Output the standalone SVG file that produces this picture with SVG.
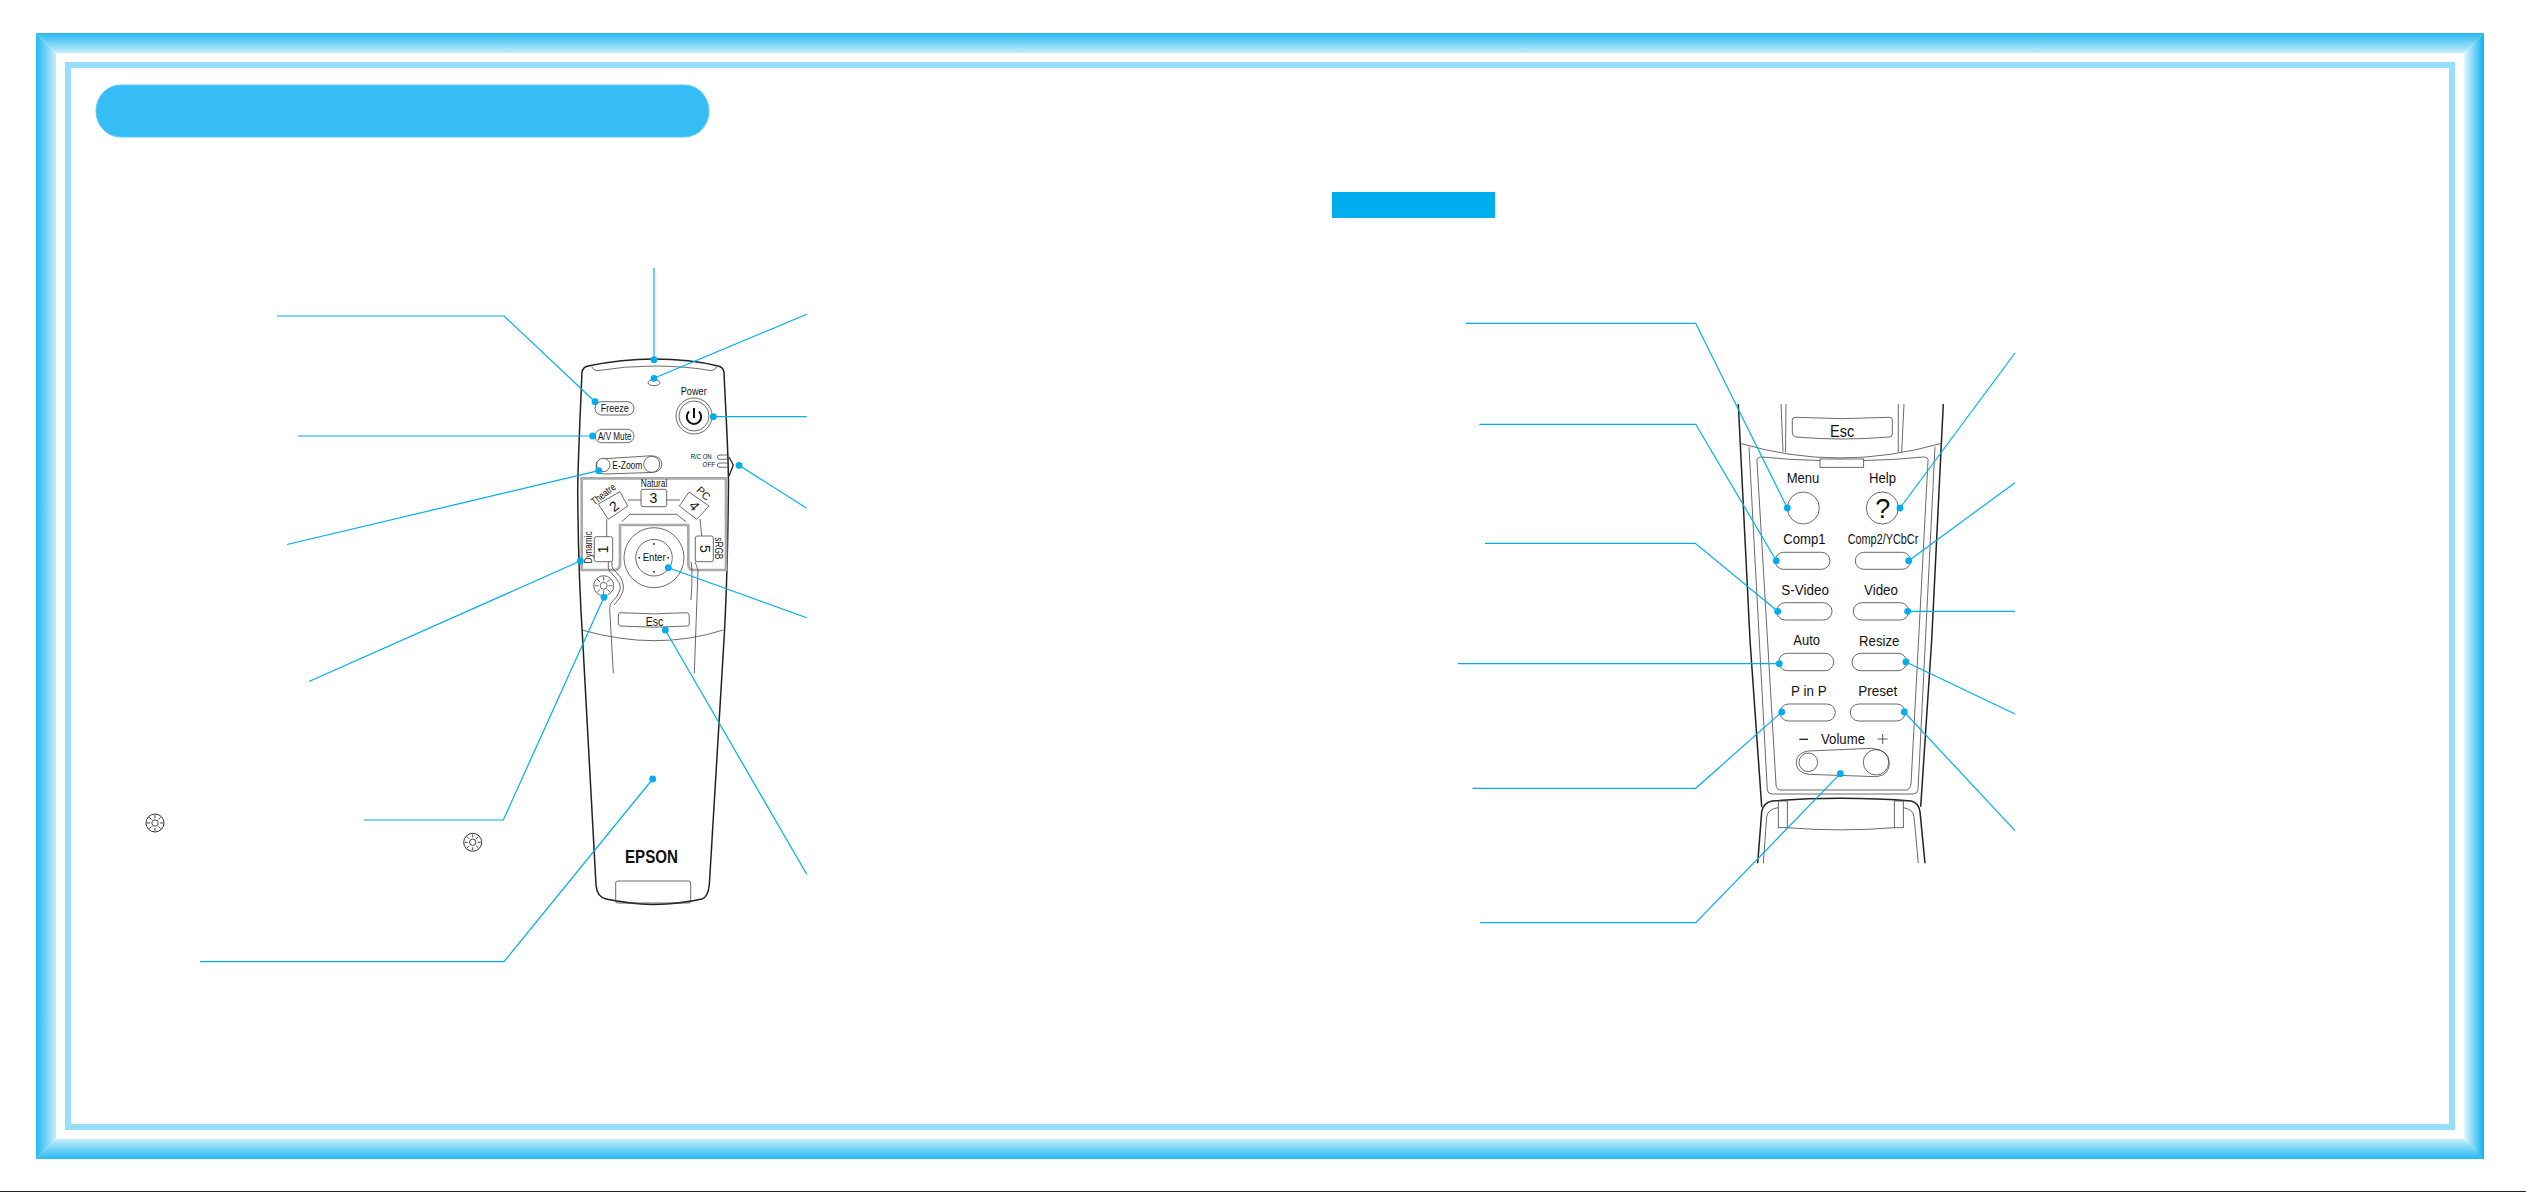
<svg xmlns="http://www.w3.org/2000/svg" width="2526" height="1192" viewBox="0 0 2526 1192">
<style>
text{font-family:"Liberation Sans",Arial,sans-serif;fill:#111;text-anchor:middle}
.b{fill:none;stroke:#222;stroke-width:1.5}
.d{fill:none;stroke:#444;stroke-width:.8}
.f{fill:#fff;stroke:#444;stroke-width:.8}
.g{fill:none;stroke:#aaa;stroke-width:2.7;stroke-linejoin:round}
.c{fill:none;stroke:#00aeef;stroke-width:1.2;marker-end:url(#dot)}
.t9{font-size:10.5px}.t12{font-size:13px}.t14{font-size:14px}
</style>
<defs>
<linearGradient id="gt" x1="0" y1="0" x2="0" y2="1"><stop offset="0" stop-color="#25b8f2"/><stop offset="1" stop-color="#c6edfc"/></linearGradient>
<linearGradient id="gb" x1="0" y1="1" x2="0" y2="0"><stop offset="0" stop-color="#25b8f2"/><stop offset="1" stop-color="#c6edfc"/></linearGradient>
<linearGradient id="gl" x1="0" y1="0" x2="1" y2="0"><stop offset="0" stop-color="#25b8f2"/><stop offset="1" stop-color="#c6edfc"/></linearGradient>
<linearGradient id="gr" x1="1" y1="0" x2="0" y2="0"><stop offset="0" stop-color="#0cb2f0"/><stop offset="1" stop-color="#e6f7fe"/></linearGradient>
<marker id="dot" markerUnits="userSpaceOnUse" markerWidth="8" markerHeight="8" refX="4" refY="4"><circle cx="4" cy="4" r="3.4" fill="#00aeef"/></marker>
<g id="sun"><circle r="9" fill="#fff" stroke="#333" stroke-width="1"/><circle r="3.2" fill="none" stroke="#333" stroke-width=".9"/><path d="M0-5V-8M0 5V8M-5 0H-8M5 0H8M-3.5-3.5L-5.7-5.7M3.5-3.5L5.7-5.7M-3.5 3.5L-5.7 5.7M3.5 3.5L5.7 5.7" stroke="#333" stroke-width=".9"/></g>
</defs>
<rect width="2526" height="1192" fill="#fff"/>
<g id="frame">
<polygon points="36,33 2484,33 2464,53 56,53" fill="url(#gt)"/>
<polygon points="36,1159 2484,1159 2464,1139 56,1139" fill="url(#gb)"/>
<polygon points="36,33 56,53 56,1139 36,1159" fill="url(#gl)"/>
<polygon points="2484,33 2464,53 2464,1139 2484,1160" fill="url(#gr)"/>
<path d="M65,62H2455V1130H65ZM71,68V1124H2449V68Z" fill="#97dff9" fill-rule="evenodd"/>
<rect x="0" y="1191" width="2526" height="1" fill="#222"/>
</g>
<rect id="title-bar" x="96" y="85" width="613" height="52" rx="24.5" ry="26" fill="#36bdf5" stroke="#5ccbf7" stroke-width="1"/>
<rect id="tag-bar" x="1332" y="192" width="163" height="26" fill="#00aeef"/>
<use id="sun-icon-1" href="#sun" x="155" y="823"/>
<use id="sun-icon-2" href="#sun" x="472.7" y="842.3"/>

<g id="remote-front">
<path class="b" d="M582,372C580,420 578,460 577.7,490C578,540 580,600 582.7,640L596,885Q597,897 606,899Q630,904 653,904.5Q680,904 702,899Q708,897 709.3,885L724,640C727,590 728,530 728.5,483C728,440 725,400 724,372Q723,367 718,366Q690,359 654,359Q622,359 588,366Q583,367 582,372Z"/>
<path class="d" d="M591.7,366.7Q593,370 597,370.7Q625,366 654,366Q685,366 711.7,370.7Q715,370 716.7,366.7"/>
<ellipse id="led" class="d" cx="654" cy="382.7" rx="6" ry="3"/>
<g id="btn-freeze"><rect class="d" x="595" y="401.7" width="39" height="13.3" rx="6.6"/><text x="614.7" y="412" class="t9" textLength="28" lengthAdjust="spacingAndGlyphs">Freeze</text></g>
<g id="btn-avmute"><rect class="d" x="595" y="429.3" width="39" height="13.4" rx="6.7"/><text x="614.7" y="440" class="t9" textLength="33.5" lengthAdjust="spacingAndGlyphs">A/V Mute</text></g>
<g id="btn-power"><text x="693.7" y="395" class="t9" textLength="26" lengthAdjust="spacingAndGlyphs">Power</text><circle class="d" cx="694" cy="416" r="18"/><circle class="d" cx="694" cy="416" r="15"/><path d="M689,411.5A7.2,7.2 0 1 0 699,411.5M694,408V418" fill="none" stroke="#111" stroke-width="2"/></g>
<g id="btn-ezoom"><path class="d" d="M603,458.8L651,455.8Q661.7,456 661.7,464.5Q661.7,472 651,472.5L604,474Q596,473 596,466Q596,460 603,458.8Z"/><circle class="f" cx="603.3" cy="465" r="6.7"/><circle class="f" cx="651.7" cy="464.3" r="8"/><text x="627.3" y="469" class="t9" textLength="30" lengthAdjust="spacingAndGlyphs">E-Zoom</text></g>
<g id="switch"><text x="701.2" y="459.3" font-size="6.5" textLength="21" lengthAdjust="spacingAndGlyphs">R/C ON</text><text x="708.8" y="467.3" font-size="6.5" textLength="12.4" lengthAdjust="spacingAndGlyphs">OFF</text><path class="d" d="M729,455H720Q717.3,455 717.3,457Q717.3,459.3 720,459.3H729M729,463H720Q717.3,463 717.3,465Q717.3,467.3 720,467.3H729"/><path d="M729,457L733.3,465L729,476" fill="none" stroke="#222" stroke-width="1.3"/></g>
<path id="preset-frame" class="g" d="M581.7,478.3H726V570H694Q688.3,570 688.3,564V525H620V564Q620,570 614,570H581.7Z"/>
<path class="d" d="M627.7,500H641M666.7,500H680M621.7,521.7L630,514.3H676.7L686,521.7M606.7,519.3V536.7M700,519L701.7,536"/>
<g id="btn-1"><rect class="d" x="594.3" y="536.7" width="18.4" height="25" rx="2"/><text transform="translate(608,549.3) rotate(-90)" class="t14">1</text><text transform="translate(592,547.5) rotate(-90)" class="t9" textLength="32" lengthAdjust="spacingAndGlyphs">Dynamic</text></g>
<g id="btn-2"><polygon class="d" stroke-linejoin="round" points="598.3,504 620,491.7 627.7,506 608.3,519.3"/><text transform="translate(617,510) rotate(-38)" class="t14">2</text><text transform="translate(605.5,497) rotate(-38)" class="t9" textLength="28" lengthAdjust="spacingAndGlyphs">Theatre</text></g>
<g id="btn-3"><rect class="d" x="641" y="489.3" width="25.7" height="17.4" rx="2"/><text x="653.5" y="502.5" class="t14">3</text><text x="654" y="487.3" class="t9" textLength="26.6" lengthAdjust="spacingAndGlyphs">Natural</text></g>
<g id="btn-4"><polygon class="d" stroke-linejoin="round" points="679.3,506 689,492 709,506 696.7,519.3"/><text transform="translate(690.5,509) rotate(50)" class="t14">4</text><text transform="translate(701,496) rotate(45)" class="t9">PC</text></g>
<g id="btn-5"><rect class="d" x="695.3" y="536" width="18" height="25.7" rx="2"/><text transform="translate(700,549) rotate(90)" class="t14">5</text><text transform="translate(715,548.3) rotate(90)" class="t9" textLength="22" lengthAdjust="spacingAndGlyphs">sRGB</text></g>
<g id="btn-enter"><circle class="d" cx="654" cy="557.7" r="30"/><circle class="d" cx="654" cy="557.7" r="18.3"/><text x="654.2" y="561" class="t9" textLength="23" lengthAdjust="spacingAndGlyphs">Enter</text><path d="M654,543.2v1.6M639.3,557v1.6M668.3,557v1.6M654,571v1.6" stroke="#111" stroke-width="1.6"/></g>
<g id="btn-light"><circle class="d" cx="603.7" cy="585.7" r="10"/><circle class="d" cx="603.7" cy="585.7" r="3.5"/><path class="d" d="M603.7,576.5v4M603.7,590.5v4M594.5,585.7h4M608.5,585.7h4M597,579l3,3M610.4,579l-3,3M597,592.4l3,-3M610.4,592.4l-3,-3"/></g>
<path class="d" d="M608.3,561.7V568Q609,571 613,575Q621.7,583 620,590Q618,597 611,603Q609,606 610,615L613.3,673.3M612,561.7V567Q613,570 617,573Q625,581 623,591Q621,598 614,605M695,561.7L698,570L694.3,673.3M691,561.7Q693,570 691,600"/>
<g id="btn-esc"><path class="d" d="M620,612.7Q654,615 687,612.7Q689.3,613 689.3,616V624Q689.3,626 687,626Q654,628.5 620,626Q618.3,625.5 618.3,623V616Q618.3,613 620,612.7Z"/><text x="654.5" y="625.7" class="t12" textLength="17.6" lengthAdjust="spacingAndGlyphs">Esc</text></g>
<path class="d" d="M581.7,630Q620,640.7 654,640.7Q690,640.7 723.3,630"/>
<rect id="tail" class="d" x="615.7" y="881" width="75" height="22" rx="2"/>
<text id="logo" x="651.5" y="863" font-size="18" font-weight="700" textLength="53" lengthAdjust="spacingAndGlyphs">EPSON</text>
</g>

<g id="remote-cover">
<path class="b" d="M1738.3,404L1750,640L1761.7,806.7M1943.3,404L1931.7,640L1920.7,806.7"/>
<path class="d" d="M1740,443.3Q1790,458 1840,458Q1890,458 1941.7,443.3"/>
<path class="d" d="M1781,404L1783,451.7M1786,404L1785.5,452M1898.3,404V452M1904,404L1901.7,452"/>
<path class="d" d="M1749,446.7L1767.3,790Q1768,794 1772,794H1913Q1917,794 1918,790L1935,446.7"/>
<path class="d" d="M1820,460.5Q1790,460 1762,457Q1756,457 1757,461L1776,784Q1776,790 1781,790H1906Q1910,790 1911,784L1928,461Q1929,457 1923,457Q1895,460 1863.7,460.5"/>
<rect id="tab" class="d" x="1820" y="459" width="43.7" height="8.3"/>
<g id="cover-esc"><path class="d" d="M1795,417.3Q1842,420 1890,417.3Q1892.3,417.5 1892.3,420V434Q1892.3,437 1889,437Q1842,441 1796,437Q1792.3,436 1792.3,433V420Q1792.3,417.5 1795,417.3Z"/><text x="1842.2" y="436.7" font-size="16" textLength="24.3" lengthAdjust="spacingAndGlyphs">Esc</text></g>
<g id="btn-menu"><text x="1803" y="483.3" class="t14" textLength="32.6" lengthAdjust="spacingAndGlyphs">Menu</text><circle class="d" cx="1803.3" cy="508" r="16"/></g>
<g id="btn-help"><text x="1882.5" y="483.3" class="t14" textLength="27" lengthAdjust="spacingAndGlyphs">Help</text><circle class="d" cx="1882.3" cy="508" r="16"/><text x="1882.7" y="518.3" font-size="27">?</text></g>
<g id="btn-comp1"><text x="1804.5" y="544" class="t14" textLength="42.4" lengthAdjust="spacingAndGlyphs">Comp1</text><rect class="d" x="1775" y="552.3" width="55" height="17" rx="8.5"/></g>
<g id="btn-comp2"><text x="1883" y="544" class="t14" textLength="70.6" lengthAdjust="spacingAndGlyphs">Comp2/YCbCr</text><rect class="d" x="1855.3" y="552.3" width="55.4" height="17" rx="8.5"/></g>
<g id="btn-svideo"><text x="1805.2" y="594.7" class="t14" textLength="47.7" lengthAdjust="spacingAndGlyphs">S-Video</text><rect class="d" x="1776.7" y="602.7" width="55.3" height="17.3" rx="8.6"/></g>
<g id="btn-video"><text x="1881" y="594.7" class="t14" textLength="34" lengthAdjust="spacingAndGlyphs">Video</text><rect class="d" x="1853.3" y="602.7" width="55.4" height="17.3" rx="8.6"/></g>
<g id="btn-auto"><text x="1806.7" y="645" class="t14" textLength="26.7" lengthAdjust="spacingAndGlyphs">Auto</text><rect class="d" x="1778.7" y="653.3" width="55" height="17.4" rx="8.7"/></g>
<g id="btn-resize"><text x="1879.2" y="645.5" class="t14" textLength="40.3" lengthAdjust="spacingAndGlyphs">Resize</text><rect class="d" x="1852" y="653.3" width="54.7" height="17.4" rx="8.7"/></g>
<g id="btn-pinp"><text x="1808.8" y="695.7" class="t14" textLength="35.7" lengthAdjust="spacingAndGlyphs">P in P</text><rect class="d" x="1780" y="704" width="55.3" height="17" rx="8.5"/></g>
<g id="btn-preset"><text x="1877.8" y="695.7" class="t14" textLength="39" lengthAdjust="spacingAndGlyphs">Preset</text><rect class="d" x="1850.3" y="704" width="55" height="17" rx="8.5"/></g>
<g id="btn-volume"><text x="1843" y="743.7" class="t14" textLength="44" lengthAdjust="spacingAndGlyphs">Volume</text><path d="M1799.3,739.3H1808" stroke="#111" stroke-width="1.2"/><path d="M1877.7,739H1887.7M1882.7,734V744" stroke="#555" stroke-width="1"/><path class="d" d="M1808,751L1871.7,748.3Q1889.3,750 1889.3,762.7Q1889.3,775 1876.7,776.7L1808,774.3Q1796.3,772 1796.3,762.7Q1796.3,753 1808,751Z"/><circle class="d" cx="1808.3" cy="762.3" r="9.3"/><circle class="d" cx="1876" cy="762.3" r="12.7"/></g>
<path class="b" d="M1757.7,863.3L1761.7,811.7Q1763,803 1772,801Q1805,798.3 1840,798.3Q1880,798.3 1911,801Q1919,803 1920,811.7L1925,863.3"/>
<path class="d" d="M1763.3,863.3L1766.7,816.7Q1768,809 1778,807.7M1918.3,863L1914,816.7Q1913,809 1903.3,807.7M1787.3,827.7Q1840,832 1894.3,827.7"/>
<rect class="d" x="1778.3" y="801" width="9" height="26.7"/><rect class="d" x="1894.3" y="801" width="9" height="26.7"/>
</g>

<g id="connectors">
<polyline class="c" points="654,268 654,359.7"/>
<polyline class="c" points="277,316 504,316 595,401.7"/>
<polyline class="c" points="298,436 592.7,436"/>
<polyline class="c" points="287,544.5 598.7,470.7"/>
<polyline class="c" points="309,681.5 580.3,561"/>
<polyline class="c" points="364,820 503.3,820 604,597.3"/>
<polyline class="c" points="200,961.7 504,961.7 652.7,779"/>
<polyline class="c" points="806.7,314.3 654,378.3"/>
<polyline class="c" points="806.7,416.7 713.3,416.7"/>
<polyline class="c" points="806.7,508.3 739,465.3"/>
<polyline class="c" points="806.7,617.7 668.3,567.7"/>
<polyline class="c" points="806.7,874.3 665.3,630"/>
<polyline class="c" points="1466,323.3 1695.7,323.3 1787.3,508"/>
<polyline class="c" points="1479.3,424.3 1695.7,424.3 1776.3,560.7"/>
<polyline class="c" points="1485,543.3 1695.3,543.3 1777.7,611.3"/>
<polyline class="c" points="1458,663.7 1779.3,663.7"/>
<polyline class="c" points="1472.5,788.3 1695.7,788.3 1781.7,712"/>
<polyline class="c" points="1480,922.7 1695.7,922.7 1840.3,773.7"/>
<polyline class="c" points="2015,353 1900,508"/>
<polyline class="c" points="2015,482.7 1908.7,560.7"/>
<polyline class="c" points="2015,611.3 1907.7,611.3"/>
<polyline class="c" points="2015,714 1906,662"/>
<polyline class="c" points="2015,830.7 1904.3,712"/>
</g>
</svg>
